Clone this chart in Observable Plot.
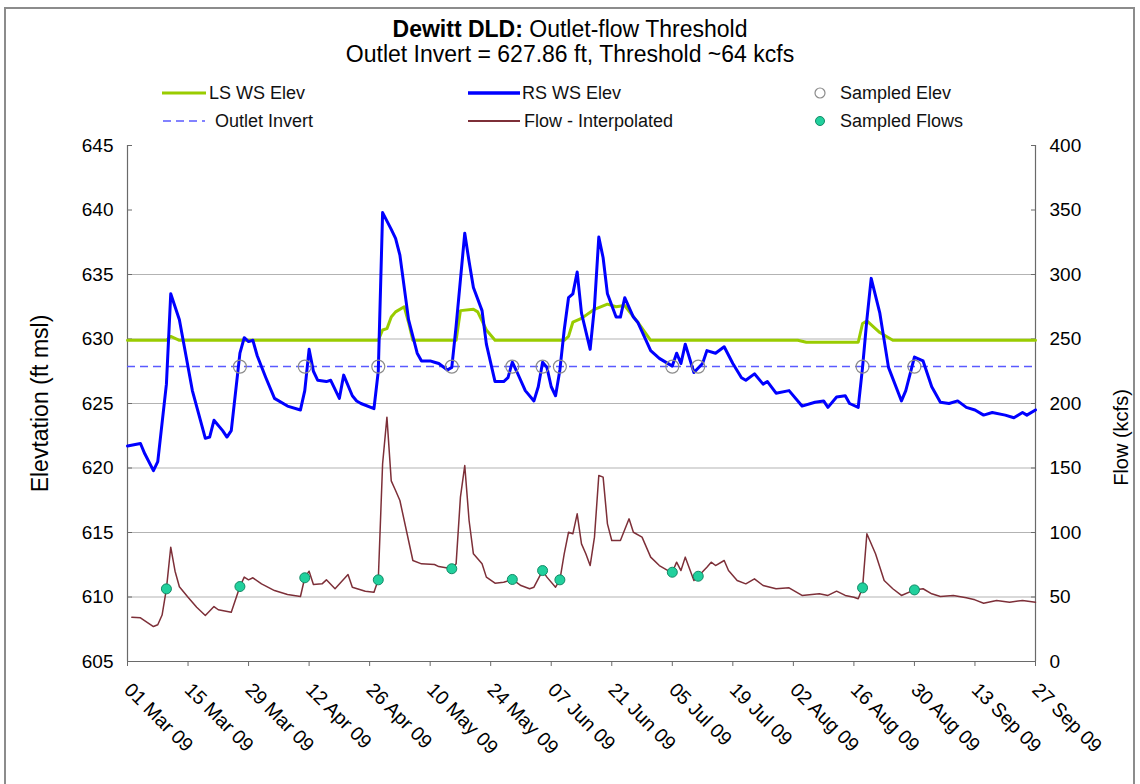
<!DOCTYPE html>
<html><head><meta charset="utf-8">
<script src="https://cdn.jsdelivr.net/npm/d3@7"></script>
<script src="https://cdn.jsdelivr.net/npm/@observablehq/plot@0.6"></script>
<style>
html,body{margin:0;padding:0;background:#fff;}
body{width:1140px;height:784px;overflow:hidden;position:relative;font-family:"Liberation Sans",Arial,sans-serif;color:#000;}
#frame{position:absolute;left:4px;top:7px;width:1131px;height:800px;border:2px solid #8c8c8c;box-sizing:border-box;}
#title{position:absolute;top:17px;left:0;width:1140px;text-align:center;font-size:23px;line-height:25px;}
.lg{position:absolute;display:flex;align-items:center;height:22px;font-size:18px;color:#111;white-space:nowrap;}
.lg svg{display:block;}
#chart{position:absolute;left:0;top:130px;}
</style></head><body>
<div id="frame"></div>
<div id="title"><div><b>Dewitt DLD:</b> Outlet-flow Threshold</div><div>Outlet Invert = 627.86 ft, Threshold ~64 kcfs</div></div>
<div class="lg" style="left:160px;top:82px"><svg width="49" height="22"><line x1="2" x2="46" y1="11" y2="11" stroke="#99cc00" stroke-width="3"/></svg><span>LS WS Elev</span></div>
<div class="lg" style="left:466px;top:82px"><svg width="56" height="22"><line x1="2" x2="54" y1="11" y2="11" stroke="#0000ff" stroke-width="3.5"/></svg><span>RS WS Elev</span></div>
<div class="lg" style="left:810px;top:82px"><svg width="30" height="22"><circle cx="10" cy="11" r="5" fill="none" stroke="#8c8c8c" stroke-width="1.2"/></svg><span>Sampled Elev</span></div>
<div class="lg" style="left:160px;top:110px"><svg width="55" height="22"><line x1="3" x2="45" y1="11" y2="11" stroke="#5a5aff" stroke-width="1.5" stroke-dasharray="8,5"/></svg><span>Outlet Invert</span></div>
<div class="lg" style="left:466px;top:110px"><svg width="58" height="22"><line x1="2" x2="54" y1="11" y2="11" stroke="#7d2f38" stroke-width="1.8"/></svg><span>Flow - Interpolated</span></div>
<div class="lg" style="left:810px;top:110px"><svg width="30" height="22"><circle cx="10" cy="11" r="4.5" fill="#21d09d" stroke="#138a66" stroke-width="1"/></svg><span>Sampled Flows</span></div>
<div id="chart"></div>
<script>
// ---- data (dates are 2009, "MM-DD") ----
const rsElev = [["03-01",621.7],["03-04",621.9],["03-05",621.1],["03-07",619.8],["03-08",620.5],["03-10",626.5],["03-11",633.5],["03-13",631.5],["03-16",626.0],["03-19",622.3],["03-20",622.4],["03-21",623.7],["03-23",622.9],["03-24",622.4],["03-25",622.9],["03-27",628.9],["03-28",630.1],["03-29",629.8],["03-30",629.9],["03-31",628.7],["04-02",627.0],["04-04",625.4],["04-07",624.8],["04-10",624.5],["04-11",626.0],["04-12",629.2],["04-13",627.5],["04-14",626.8],["04-16",626.7],["04-17",626.8],["04-19",625.4],["04-20",627.2],["04-22",625.6],["04-23",625.2],["04-24",625.0],["04-27",624.6],["04-28",627.5],["04-29",639.8],["05-01",638.5],["05-02",637.8],["05-03",636.5],["05-05",631.5],["05-07",628.9],["05-08",628.3],["05-10",628.3],["05-11",628.2],["05-12",628.1],["05-14",627.6],["05-15",627.8],["05-16",631.0],["05-18",638.2],["05-19",636.0],["05-20",634.0],["05-22",632.2],["05-23",629.6],["05-25",626.7],["05-27",626.7],["05-28",627.0],["05-29",628.2],["05-30",627.5],["06-01",626.0],["06-03",625.2],["06-04",626.3],["06-05",628.2],["06-06",627.8],["06-07",626.3],["06-08",625.6],["06-09",627.6],["06-10",630.7],["06-11",633.2],["06-12",633.5],["06-13",635.2],["06-14",632.0],["06-16",629.2],["06-17",632.5],["06-18",637.9],["06-19",636.3],["06-20",633.5],["06-22",631.7],["06-23",631.7],["06-24",633.2],["06-26",631.7],["06-27",631.3],["06-30",629.1],["07-02",628.5],["07-05",627.9],["07-06",628.9],["07-07",628.1],["07-08",629.6],["07-10",627.4],["07-12",628.1],["07-13",629.1],["07-15",628.9],["07-17",629.4],["07-19",628.1],["07-21",627.0],["07-22",626.8],["07-24",627.3],["07-26",626.5],["07-27",626.7],["07-29",625.8],["08-01",626.0],["08-04",624.8],["08-07",625.1],["08-09",625.2],["08-10",624.7],["08-12",625.5],["08-14",625.6],["08-15",625.0],["08-17",624.7],["08-18",627.8],["08-19",631.5],["08-20",634.7],["08-22",632.0],["08-24",627.8],["08-27",625.2],["08-28",626.0],["08-30",628.6],["09-01",628.3],["09-03",626.3],["09-05",625.1],["09-07",625.0],["09-09",625.2],["09-11",624.7],["09-13",624.5],["09-15",624.1],["09-17",624.3],["09-20",624.1],["09-22",623.9],["09-24",624.3],["09-25",624.1],["09-27",624.5]];
const lsElev = [["03-01",629.9],["03-10",629.9],["03-11",630.2],["03-13",629.9],["04-28",629.9],["04-29",630.7],["04-30",630.8],["05-01",631.7],["05-02",632.1],["05-04",632.5],["05-05",631.3],["05-06",629.9],["05-16",629.9],["05-17",632.2],["05-20",632.3],["05-21",632.1],["05-23",630.7],["05-25",629.9],["06-10",629.9],["06-11",630.2],["06-12",631.3],["06-14",631.6],["06-17",632.3],["06-20",632.7],["06-22",632.5],["06-24",632.6],["06-27",631.3],["06-30",629.9],["08-03",629.9],["08-05",629.75],["08-17",629.75],["08-18",631.2],["08-19",631.4],["08-22",630.5],["08-25",629.9],["09-27",629.9]];
const flowKcfs = [["03-02",34.3],["03-04",33.9],["03-07",27.1],["03-08",28.5],["03-09",36.0],["03-10",56.3],["03-11",88.6],["03-12",70.0],["03-13",58.0],["03-15",49.8],["03-17",42.0],["03-19",35.7],["03-21",42.6],["03-22",40.1],["03-25",38.2],["03-27",58.1],["03-28",65.4],["03-29",63.3],["03-30",64.9],["04-01",60.2],["04-04",55.0],["04-07",51.9],["04-10",50.4],["04-11",64.9],["04-12",70.0],["04-13",59.7],["04-15",60.2],["04-16",63.3],["04-18",56.4],["04-21",67.4],["04-22",57.6],["04-25",54.5],["04-27",53.7],["04-28",63.3],["04-29",153.3],["04-30",189.4],["05-01",140.0],["05-02",132.6],["05-03",124.8],["05-06",78.3],["05-08",75.7],["05-11",75.2],["05-12",73.6],["05-15",71.9],["05-16",75.7],["05-17",127.4],["05-18",151.9],["05-19",109.3],["05-20",83.5],["05-22",75.7],["05-23",65.4],["05-25",60.7],["05-27",61.5],["05-29",63.6],["05-31",58.9],["06-02",56.4],["06-03",57.6],["06-05",70.5],["06-06",65.4],["06-08",57.6],["06-09",63.3],["06-10",83.5],["06-11",100.2],["06-12",99.0],["06-13",114.5],["06-14",91.2],["06-15",83.5],["06-16",74.4],["06-17",96.4],["06-18",144.2],["06-19",142.9],["06-20",106.7],["06-21",93.8],["06-23",93.8],["06-25",110.6],["06-26",100.2],["06-28",96.4],["06-30",80.9],["07-02",74.4],["07-04",70.5],["07-05",69.2],["07-06",77.0],["07-07",70.5],["07-08",80.9],["07-10",62.8],["07-11",66.1],["07-13",73.1],["07-14",77.0],["07-15",74.4],["07-17",78.3],["07-18",70.5],["07-20",62.8],["07-22",60.2],["07-24",64.1],["07-26",58.9],["07-29",56.4],["08-01",57.1],["08-04",51.2],["08-08",52.5],["08-10",51.2],["08-12",54.5],["08-14",51.2],["08-16",49.8],["08-17",48.6],["08-18",57.1],["08-19",99.0],["08-21",83.5],["08-23",62.8],["08-25",56.4],["08-27",51.2],["08-30",55.5],["09-01",56.4],["09-03",52.5],["09-05",50.4],["09-08",51.2],["09-11",49.4],["09-13",47.8],["09-15",45.2],["09-18",47.3],["09-21",46.0],["09-24",47.3],["09-27",46.0]];
const sampledFlows = [["03-10",56.3],["03-27",58.1],["04-11",64.9],["04-28",63.3],["05-15",71.9],["05-29",63.6],["06-05",70.5],["06-09",63.3],["07-05",69.2],["07-11",66.1],["08-18",57.1],["08-30",55.5]];
const sampledElevDates = ["03-27","04-11","04-28","05-15","05-29","06-05","06-09","07-05","07-11","08-18","08-30"];
const outletInvert = 627.86;
const elevTicks = [605,610,615,620,625,630,635,640,645];
const gridElev = [610,615,620,625,630,635];
const flowTicks = [0,50,100,150,200,250,300,350,400];
const dateTicks = ["03-01","03-15","03-29","04-12","04-26","05-10","05-24","06-07","06-21","07-05","07-19","08-02","08-16","08-30","09-13","09-27"];

// ---- helpers ----
const day = s => new Date("2009-" + s + "T00:00:00Z");
const toRows = arr => arr.map(([d, v]) => ({date: day(d), v}));
const flowToElev = f => 605 + f / 10; // secondary axis: 0..400 kcfs over 605..645 ft
const rs = toRows(rsElev), ls = toRows(lsElev), flow = toRows(flowKcfs), sf = toRows(sampledFlows);
const se = sampledElevDates.map(d => ({date: day(d), v: outletInvert}));
const x0 = day("03-01"), x1 = day("09-27");
const fmt = d3.utcFormat("%d %b %y");
const axisColor = "#6a6a6a";

const chart = Plot.plot({
  width: 1140, height: 654,
  marginTop: 15, marginBottom: 123, marginLeft: 127, marginRight: 105,
  style: {fontFamily: "'Liberation Sans', Arial, sans-serif", background: "transparent", color: "#000", overflow: "visible"},
  x: {type: "utc", domain: [x0, x1], label: null},
  y: {domain: [605, 645], label: null},
  marks: [
    Plot.ruleY(gridElev, {stroke: "#b3b3b3", strokeWidth: 1}),
    Plot.ruleX([x0], {stroke: axisColor, strokeWidth: 1.2}),
    Plot.ruleX([x1], {stroke: axisColor, strokeWidth: 1.2}),
    Plot.ruleY([605], {stroke: axisColor, strokeWidth: 1.2}),
    Plot.axisY({anchor: "left", ticks: elevTicks, tickSize: 5, dx: 5, tickFormat: () => "", stroke: axisColor, label: null}),
    Plot.axisY({anchor: "right", ticks: flowTicks.map(flowToElev), tickSize: 5, dx: -5, tickFormat: () => "", stroke: axisColor, label: null}),
    Plot.axisY({anchor: "left", ticks: elevTicks, tickSize: 0, tickPadding: 14, fontSize: 19, label: null}),
    Plot.axisY({anchor: "right", ticks: flowTicks.map(flowToElev), tickSize: 0, tickPadding: 14, fontSize: 19, label: null,
      tickFormat: e => String(Math.round((e - 605) * 10))}),
    Plot.axisX({ticks: dateTicks.map(day), tickFormat: fmt, tickSize: 5, tickPadding: 20, tickRotate: 45, fontSize: 19.5, label: null, stroke: axisColor}),
    Plot.text(["Elevtation (ft msl)"], {text: d => d, frameAnchor: "left", textAnchor: "middle", dx: -87, rotate: -90, fontSize: 23, fill: "#000"}),
    Plot.text(["Flow (kcfs)"], {text: d => d, frameAnchor: "right", textAnchor: "middle", dx: 86, dy: 34, rotate: -90, fontSize: 20, fill: "#000"}),
    Plot.line(ls, {x: "date", y: "v", stroke: "#99cc00", strokeWidth: 3}),
    Plot.ruleY([outletInvert], {stroke: "#5a5aff", strokeWidth: 1.5, strokeDasharray: "8,5"}),
    Plot.line(flow, {x: "date", y: d => flowToElev(d.v), stroke: "#7d2f38", strokeWidth: 1.5}),
    Plot.line(rs, {x: "date", y: "v", stroke: "#0000ff", strokeWidth: 3}),
    Plot.dot(se, {x: "date", y: "v", r: 6.5, fill: "none", stroke: "#8c8c8c", strokeWidth: 1.2}),
    Plot.dot(sf, {x: "date", y: d => flowToElev(d.v), r: 5, fill: "#21d09d", stroke: "#138a66", strokeWidth: 1})
  ]
});
document.getElementById("chart").appendChild(chart);
</script>
</body></html>
